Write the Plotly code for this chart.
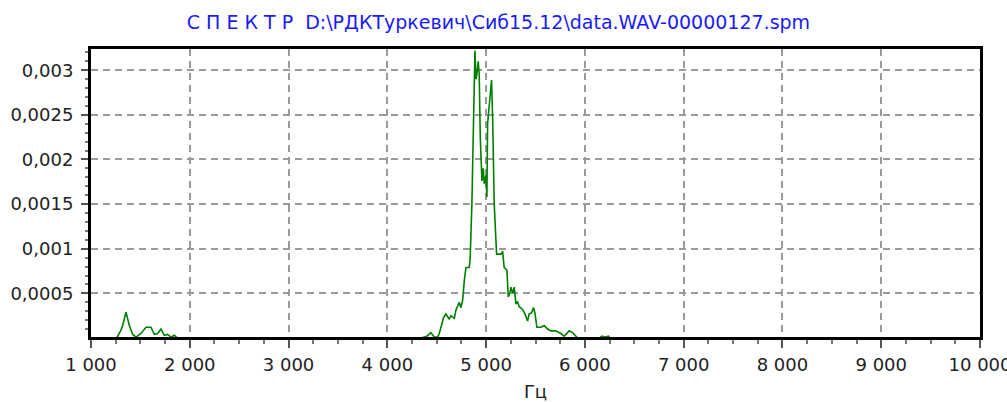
import plotly.graph_objects as go

# ---- data ----
freq_hz = [1000, 1260, 1300, 1321, 1354, 1388, 1422, 1456, 1506, 1540, 1557, 1607, 1641,
           1675, 1708, 1742, 1776, 1810, 1843, 1877,
           4340, 4400, 4441, 4475, 4509, 4526, 4543, 4570, 4593, 4610, 4627, 4644, 4660,
           4678, 4694, 4711, 4728, 4745, 4762, 4779, 4796, 4829, 4839, 4856, 4873, 4887,
           4898, 4907, 4920, 4930, 4941, 4958, 4971, 4981, 4998, 5008, 5015, 5031, 5042,
           5055, 5066, 5082, 5106, 5150, 5167, 5183, 5211, 5224, 5240, 5251, 5268, 5285,
           5302, 5318, 5335, 5369, 5393, 5420, 5436, 5460, 5480, 5494, 5514, 5555, 5588,
           5622, 5656, 5706, 5757, 5791, 5824, 5841, 5875, 5909, 5926,
           6150, 6170, 6200, 6240, 6255, 10000]
amplitude = [0, 0, 0.00008, 0.00014, 0.00029, 0.00014, 0.00004, 0.00001, 0.00005, 0.0001,
             0.00012, 0.00012, 0.00004, 0.00005, 0.0001, 0.00003, 0.00004, 0.00001, 0.00003, 0,
             0, 0.00002, 0.00006, 0.00001, 0.00001, 0.00005, 0.00012, 0.00023, 0.00027,
             0.00024, 0.00021, 0.00025, 0.00023, 0.00022, 0.00031, 0.00036, 0.0004, 0.00034,
             0.00042, 0.00064, 0.00079, 0.00079, 0.0009, 0.0015, 0.00259, 0.00322,
             0.0029, 0.00296, 0.0031, 0.00296, 0.00225, 0.00176, 0.0019, 0.00173, 0.00182,
             0.00158, 0.0024, 0.00258, 0.00277, 0.00289, 0.00247, 0.0015, 0.00094, 0.00094,
             0.00097, 0.00079, 0.00076, 0.00046, 0.0005, 0.00057, 0.0005, 0.00057, 0.00038,
             0.00041, 0.00035, 0.00032, 0.00027, 0.00019, 0.00027, 0.00028, 0.00034, 0.00028,
             0.00012, 0.00012, 0.00014, 0.0001, 0.00008, 0.00008, 0.00005, 0.00002, 0.00006,
             0.00008, 0.00006, 0.00002, 0,
             0, 0.00002, 0.00001, 0.00002, 0, 0]

x_tick_vals = [1000, 2000, 3000, 4000, 5000, 6000, 7000, 8000, 9000, 10000]
x_tick_text = ["1 000", "2 000", "3 000", "4 000", "5 000", "6 000", "7 000", "8 000",
               "9 000", "10 000"]
y_tick_vals = [0.0005, 0.001, 0.0015, 0.002, 0.0025, 0.003]
y_tick_text = ["0,0005", "0,001", "0,0015", "0,002", "0,0025", "0,003"]

title_text = "С П Е К Т Р  D:\\РДКТуркевич\\Сиб15.12\\data.WAV-00000127.spm"
x_title = "Гц"

x_range = [1000, 10000]
y_range = [0.000011, 0.003238]

x_minor = [1000 + 250 * i for i in range(37)]
y_minor = [round(0.0001 * i, 6) for i in range(1, 33)]

tick_font = dict(family="DejaVu Sans", size=18, color="#222222")

fig = go.Figure(
    go.Scatter(x=freq_hz, y=amplitude, mode="lines",
               line=dict(color="#008000", width=1.6))
)

fig.update_layout(
    width=1007, height=402,
    margin=dict(l=91, r=27, t=49, b=65),
    paper_bgcolor="white", plot_bgcolor="white",
    showlegend=False,
    title=dict(text=title_text, xref="container", x=0.495, xanchor="center",
               yref="container", y=1 - 22 / 402, yanchor="middle",
               font=dict(family="DejaVu Sans", size=19, color="#1a1aff"),
               automargin=False),
)

fig.update_xaxes(
    range=x_range, tickmode="array", tickvals=x_tick_vals, ticktext=x_tick_text,
    ticks="outside", ticklen=8, tickwidth=1.5, tickcolor="#555555",
    showline=True, linecolor="black", linewidth=3, mirror=True,
    showgrid=True, gridcolor="#9a9a9a", gridwidth=2, griddash="7px,5px",
    zeroline=False, tickfont=tick_font, ticklabelstandoff=1,
    ticklabeloverflow="allow", automargin=False,
    minor=dict(tickvals=x_minor, ticks="outside", ticklen=4, tickwidth=1.5,
               tickcolor="#777777", showgrid=False),
    title=dict(text=x_title, font=tick_font, standoff=21),
)

fig.update_yaxes(
    range=y_range, tickmode="array", tickvals=y_tick_vals, ticktext=y_tick_text,
    ticks="outside", ticklen=7, tickwidth=1.5, tickcolor="#555555",
    showline=True, linecolor="black", linewidth=3, mirror=True,
    showgrid=True, gridcolor="#9a9a9a", gridwidth=2, griddash="7px,5px",
    zeroline=False, tickfont=tick_font, ticklabelstandoff=4, automargin=False,
    minor=dict(tickvals=y_minor, ticks="outside", ticklen=3, tickwidth=1.5,
               tickcolor="#777777", showgrid=False),
)

fig.write_html("out.html")
